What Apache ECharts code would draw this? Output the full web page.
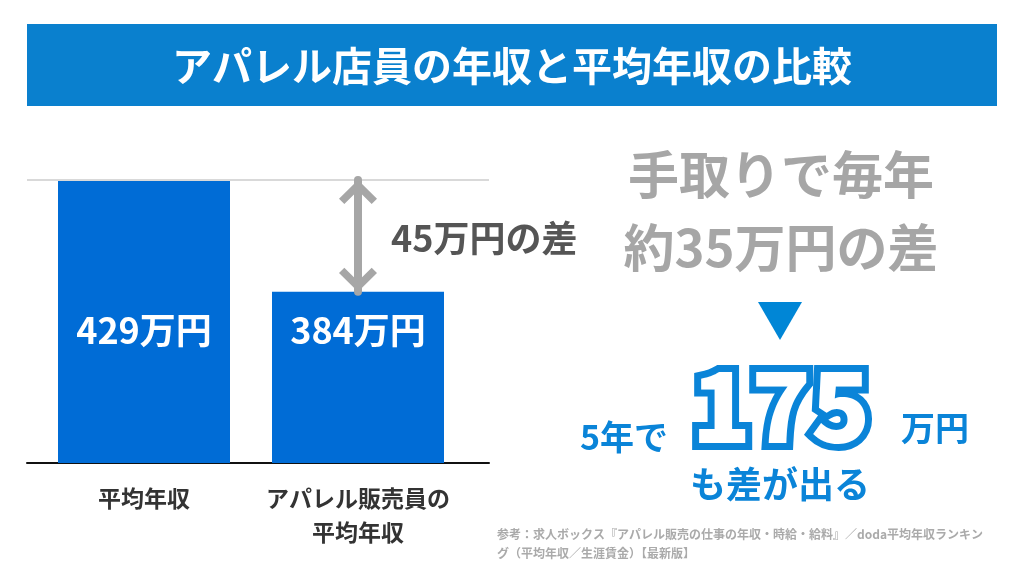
<!DOCTYPE html>
<html><head><meta charset="utf-8">
<script src="https://cdn.jsdelivr.net/npm/echarts@6/dist/echarts.min.js"></script>
<style>html,body{margin:0;padding:0;background:#fff}#c{width:1024px;height:576px}</style>
</head><body><div id="c"></div>
<script>
const titleText = 'アパレル店員の年収と平均年収の比較';
const categories = ['平均年収', 'アパレル販売員の\n平均年収'];
const incomes = [429, 384];
const takeHomeDiffPerYear = 35;
const years = 5;
const totalDiff = 175;
const sourceLines = ['参考：求人ボックス『アパレル販売の仕事の年収・時給・給料』／doda平均年収ランキン', 'グ（平均年収／生涯賃金）【最新版】'];

const FONT = '"Noto Sans CJK JP", "Noto Sans", sans-serif';
const grossDiff = incomes[0] - incomes[1];
const chevron = 'path://M50,0 L100,50 L86,64 L50,28 L14,64 L0,50 Z';
const BLUE = '#0a84d8';
const GRAY = '#a6a6a6';

const chart = echarts.init(document.getElementById('c'), null, {renderer: 'canvas'});
chart.setOption({
  backgroundColor: '#ffffff',
  animation: false,
  grid: [
    {left: 37, right: 559, top: 180, bottom: 113},
    {left: 27, right: 535, top: 180, bottom: 113}
  ],
  xAxis: [
    {gridIndex: 0, type: 'category', data: categories,
     axisLine: {show: false}, axisTick: {show: false},
     axisLabel: {interval: 0, color: '#333', fontSize: 23, fontWeight: 'bold', fontFamily: FONT, margin: 18, lineHeight: 34}},
    {gridIndex: 1, type: 'category', data: categories,
     axisLine: {show: true, lineStyle: {color: '#111', width: 2}}, axisTick: {show: false}, axisLabel: {show: false}}
  ],
  yAxis: [
    {gridIndex: 0, type: 'value', min: 315, max: 429, show: false},
    {gridIndex: 1, type: 'value', min: 315, max: 429, show: false}
  ],
  series: [
    {
      type: 'line', xAxisIndex: 1, yAxisIndex: 1, data: [], z: 1,
      markLine: {silent: true, symbol: ['none', 'none'], label: {show: false},
        lineStyle: {color: '#d9d9d9', width: 2, type: 'solid'},
        data: [{yAxis: incomes[0]}]}
    },
    {
      type: 'bar', xAxisIndex: 0, yAxisIndex: 0, data: incomes, z: 3,
      barWidth: 172,
      itemStyle: {color: '#006cd6'},
      label: {show: true, position: 'insideBottom', distance: 115, formatter: '{c}万円',
        color: '#fff', fontSize: 36, fontWeight: 'bold', fontFamily: FONT},
      markLine: {
        silent: true,
        symbol: ['none', 'none'],
        label: {show: false},
        lineStyle: {color: GRAY, width: 8, type: 'solid', opacity: 1, cap: 'round'},
        data: [[{coord: [1, incomes[0]]}, {coord: [1, incomes[1]]}]]
      },
      markPoint: {
        silent: true,
        label: {show: false},
        itemStyle: {color: GRAY},
        data: [
          {coord: [1, incomes[0]], symbol: chevron, symbolSize: [38, 24], symbolOffset: [0, 12]},
          {coord: [1, incomes[1]], symbol: chevron, symbolSize: [38, 24], symbolRotate: 180, symbolOffset: [0, -12]}
        ]
      }
    }
  ],
  graphic: [
    {type: 'rect', shape: {x: 27, y: 24, width: 970, height: 82}, style: {fill: '#0a80ce'}, z: 0},
    {type: 'text', x: 512, y: 66, style: {text: titleText, fill: '#fff', font: 'bold 40px ' + FONT, textAlign: 'center', textVerticalAlign: 'middle'}, z: 1},
    {type: 'text', x: 391, y: 238, style: {text: grossDiff + '万円の差', fill: '#555', font: 'bold 36px ' + FONT, textAlign: 'left', textVerticalAlign: 'middle'}},
    {type: 'text', x: 781, y: 175, style: {text: '手取りで毎年', fill: GRAY, font: 'bold 51px ' + FONT, textAlign: 'center', textVerticalAlign: 'middle'}},
    {type: 'text', x: 781, y: 248, style: {text: '約' + takeHomeDiffPerYear + '万円の差', fill: GRAY, font: 'bold 51px ' + FONT, textAlign: 'center', textVerticalAlign: 'middle'}},
    {type: 'polygon', shape: {points: [[758, 302], [802, 302], [780, 340]]}, style: {fill: '#0086d6'}},
    {type: 'text', x: 624, y: 437, style: {text: years + '年で', fill: BLUE, font: 'bold 34px ' + FONT, textAlign: 'center', textVerticalAlign: 'middle'}},
    {type: 'text', x: 781, y: 406, z: 10, style: {text: String(totalDiff), fill: BLUE, stroke: BLUE, lineWidth: 14, lineJoin: 'round', font: '900 98px ' + FONT, textAlign: 'center', textVerticalAlign: 'middle'}},
    {type: 'text', x: 781, y: 406, z: 11, style: {text: String(totalDiff), fill: '#fff', font: '900 98px ' + FONT, textAlign: 'center', textVerticalAlign: 'middle'}},
    {type: 'text', x: 935, y: 428, style: {text: '万円', fill: BLUE, font: 'bold 34px ' + FONT, textAlign: 'center', textVerticalAlign: 'middle'}},
    {type: 'text', x: 780, y: 484, style: {text: 'も差が出る', fill: BLUE, font: 'bold 36px ' + FONT, textAlign: 'center', textVerticalAlign: 'middle'}},
    {type: 'text', x: 497, y: 534, style: {text: sourceLines[0], fill: '#aaa', font: 'bold 12px ' + FONT, textAlign: 'left', textVerticalAlign: 'middle'}},
    {type: 'text', x: 497, y: 553, style: {text: sourceLines[1], fill: '#aaa', font: 'bold 12px ' + FONT, textAlign: 'left', textVerticalAlign: 'middle'}}
  ]
});
</script>
</body></html>
